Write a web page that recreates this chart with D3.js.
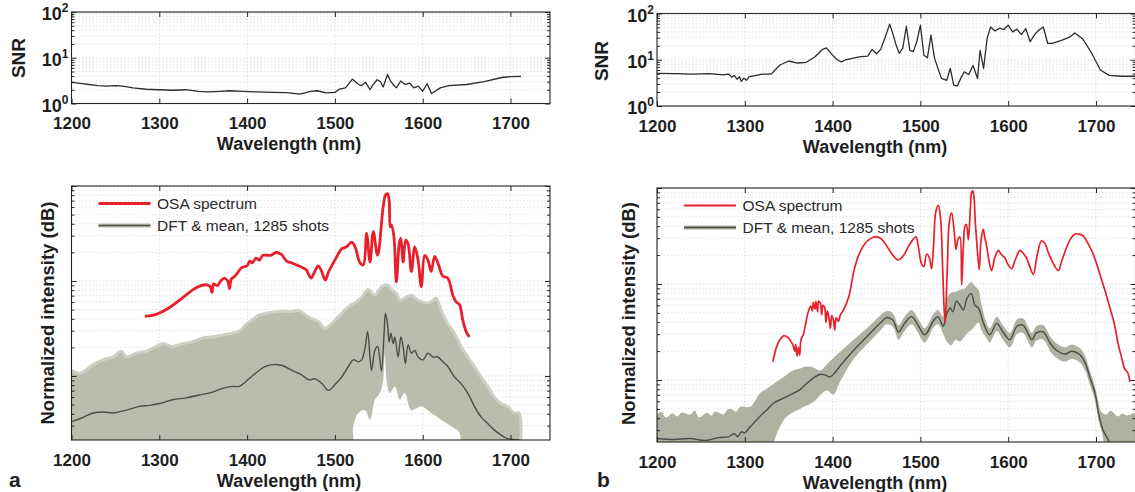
<!DOCTYPE html>
<html>
<head>
<meta charset="utf-8">
<script src="https://cdn.jsdelivr.net/npm/d3@7/dist/d3.min.js"></script>
<style>
html,body{margin:0;padding:0;background:#fff;}
svg{display:block;}
text{font-family:"Liberation Sans",Arial,Helvetica,sans-serif;}
</style>
</head>
<body>
<svg id="fig" width="1135" height="492"></svg>
<script>
// ---------------- data ----------------
const xTickValues = [1200,1300,1400,1500,1600,1700];
const xTickLabels = ["1200","1300","1400","1500","1600","1700"];
const snrTickValues = [1,10,100];
const snrTickExponents = ["0","1","2"];
const xAxisTitle = "Wavelength (nm)";
const snrTitle = "SNR";
const intTitle = "Normalized intensity (dB)";
const legendLabels = ["OSA spectrum","DFT & mean, 1285 shots"];
const panelLetters = ["a","b"];

// SNR, panel a  [wavelength nm, SNR]
const snrA = [[1200,2.9],[1210,2.75],[1220,2.6],[1230,2.45],[1240,2.4],[1250,2.45],[1258,2.4],[1270,2.2],[1285,2.05],[1300,2.0],[1315,1.95],[1330,2.0],[1345,1.85],[1355,1.8],[1370,1.85],[1380,1.9],[1395,1.85],[1410,1.8],[1430,1.75],[1445,1.72],[1460,1.6],[1466,1.7],[1472,1.85],[1480,1.9],[1490,1.7],[1500,1.75],[1505,2.05],[1512,2.2],[1520,3.4],[1526,2.7],[1530,2.45],[1535,2.9],[1540,2.0],[1543,2.5],[1548,3.3],[1552,3.0],[1555,2.3],[1560,4.3],[1563,3.2],[1567,2.5],[1570,2.2],[1575,3.1],[1580,2.6],[1585,2.8],[1590,2.2],[1595,2.4],[1600,1.85],[1605,2.7],[1610,1.65],[1615,1.9],[1620,2.2],[1630,2.45],[1650,2.6],[1670,3.0],[1690,3.7],[1700,3.85],[1712,3.9]];

// SNR, panel b
const snrB = [[1200,5.1],[1220,5.0],[1240,4.9],[1260,5.0],[1275,4.7],[1282,4.9],[1285,4.2],[1288,4.6],[1291,3.8],[1294,4.3],[1296,3.4],[1299,4.0],[1302,3.6],[1305,4.3],[1310,4.5],[1320,4.9],[1330,4.9],[1340,7.7],[1350,9.4],[1360,8.5],[1370,8.8],[1380,11.6],[1388,16.5],[1393,18],[1400,12.6],[1405,10],[1410,9.0],[1415,10],[1420,10.5],[1430,11.5],[1440,12],[1445,16.7],[1450,13.5],[1455,17],[1460,31],[1465,59],[1468,40],[1472,22],[1476,13.7],[1480,18],[1484,53],[1488,16],[1492,15],[1496,25],[1500,56],[1504,12.5],[1508,11],[1512,34],[1516,11],[1520,6.5],[1524,3.95],[1530,3.6],[1534,6.5],[1538,2.84],[1542,2.7],[1546,4],[1550,5.5],[1555,4.8],[1560,7.5],[1565,3.95],[1568,16],[1572,6.5],[1576,29],[1580,51],[1585,42],[1590,48],[1595,45],[1600,56],[1605,40],[1610,46],[1615,35],[1620,47],[1625,24.5],[1630,35],[1635,44],[1640,51],[1645,22.5],[1650,22.5],[1660,26],[1670,31],[1676,38],[1685,28],[1695,14],[1705,6],[1715,4.6],[1730,4.4],[1745,4.4]];

// Normalized intensity, panel a  [wavelength nm, dB]
const osaA = [[1283.5,-13.7],[1293.5,-13.6],[1310,-12.9],[1326,-11.8],[1342,-10.7],[1354,-10.4],[1358,-10.6],[1360,-11.2],[1362,-10.3],[1366,-10.5],[1370,-10.0],[1374,-9.7],[1378,-10.0],[1380,-10.8],[1382,-9.8],[1386,-9.5],[1394,-8.6],[1400,-8.4],[1403,-7.9],[1406,-8.1],[1410,-7.6],[1414,-7.8],[1418,-7.3],[1427,-7.3],[1433,-7.0],[1439,-7.2],[1445,-7.9],[1451,-8.1],[1461,-8.5],[1467,-8.8],[1473,-9.7],[1477,-9.0],[1481,-8.4],[1485,-9.0],[1489,-9.9],[1493,-9.0],[1500,-7.8],[1508,-6.6],[1513.5,-6.4],[1519,-5.9],[1523,-6.4],[1528.6,-8.1],[1532.4,-8.3],[1536.1,-5.0],[1540,-8.0],[1543.7,-4.8],[1548.6,-7.3],[1555,-2.2],[1557.6,-0.95],[1559.9,-0.8],[1561.8,-1.5],[1563,-4.3],[1564.4,-4.1],[1567.2,-5.3],[1570,-10.1],[1573.2,-6.1],[1575,-5.5],[1577.7,-8.0],[1580.7,-5.7],[1583.4,-6.1],[1587.1,-9.0],[1591,-6.4],[1594.7,-7.8],[1598.4,-10.6],[1602.3,-7.3],[1606,-7.8],[1609.7,-9.0],[1613.6,-7.4],[1617.3,-8.1],[1623,-9.5],[1628.6,-9.7],[1634.3,-11.5],[1638,-12.2],[1642,-12.5],[1645.6,-14.1],[1649.4,-15.3],[1653.2,-15.9]];

const meanA = [[1200,-24.8],[1209.6,-24.5],[1224.7,-23.9],[1236,-23.8],[1247.3,-23.9],[1262.5,-23.6],[1277.6,-23.2],[1288.9,-23.1],[1300.2,-22.9],[1315.3,-22.5],[1330.5,-22.3],[1345.5,-22.0],[1360.6,-21.7],[1372,-21.3],[1383.2,-21.1],[1390.8,-21.1],[1398.4,-20.6],[1409.7,-19.7],[1421,-19.0],[1430.5,-18.8],[1439.9,-18.9],[1451.2,-19.4],[1462.5,-19.9],[1470.1,-20.4],[1477.7,-20.3],[1485.2,-20.8],[1492.6,-21.5],[1500.3,-20.9],[1507.8,-20.1],[1515.4,-19.0],[1521,-18.3],[1526.7,-18.5],[1530.5,-18.3],[1534.3,-17.1],[1537.3,-15.3],[1540,-18.0],[1541.8,-19.4],[1545.6,-17.3],[1548.6,-16.9],[1551.3,-18.3],[1553.1,-19.5],[1556.2,-15.2],[1557.6,-13.4],[1559.9,-14.5],[1561.8,-16.4],[1563.8,-15.5],[1566.4,-16.6],[1568.3,-15.9],[1572,-18.0],[1575.1,-15.9],[1577.7,-16.9],[1580.3,-18.7],[1583.4,-16.7],[1587.1,-17.6],[1591,-17.3],[1594.7,-18.0],[1600.4,-18.3],[1606,-17.6],[1611.7,-18.0],[1617.3,-18.0],[1623,-18.5],[1628.6,-19.0],[1636.2,-20.1],[1643.7,-20.8],[1651.3,-21.8],[1658.9,-23.2],[1666.4,-24.3],[1674,-25.0],[1681.6,-25.7],[1689,-26.2],[1696.6,-26.6],[1704.2,-26.7],[1709.8,-26.7]];

const bandAUpper = [[1200,-19.4],[1209.6,-19.7],[1224.7,-18.8],[1236,-18.3],[1247.3,-18.0],[1256.9,-17.4],[1262.5,-18.0],[1273.8,-17.6],[1285.2,-17.4],[1296.5,-16.9],[1304,-16.6],[1315.3,-16.9],[1326.6,-16.6],[1338,-16.4],[1349.3,-16.0],[1360.6,-15.9],[1372,-15.7],[1383.2,-15.5],[1392.7,-15.2],[1398.4,-14.6],[1405.9,-14.1],[1413.5,-13.6],[1421,-13.4],[1436.1,-13.2],[1451.2,-13.2],[1458.8,-13.1],[1470.1,-13.8],[1481.4,-14.3],[1489,-15.0],[1500.3,-14.1],[1507.8,-13.4],[1515.4,-12.7],[1523,-12.3],[1530.5,-11.7],[1538,-10.9],[1545.6,-11.5],[1553,-10.6],[1558.8,-10.4],[1564.4,-10.9],[1570,-11.3],[1574,-12.0],[1579.6,-11.8],[1587,-11.5],[1594.6,-12.0],[1602.2,-12.3],[1609.7,-12.2],[1615.4,-11.8],[1621,-13.1],[1628.6,-14.5],[1636.2,-15.5],[1643.7,-16.9],[1651.3,-18.0],[1658.9,-19.0],[1666.4,-20.1],[1674,-21.1],[1681.6,-22.2],[1689,-22.9],[1696.6,-23.2],[1704.2,-23.9],[1709.8,-23.9],[1710,-30]];

const bandALower = [[1200,-30],[1515,-30],[1521,-25.3],[1526.6,-23.9],[1534.3,-23.6],[1540,-24.6],[1545.6,-22.5],[1551.3,-21.8],[1555,-20.4],[1557,-17.6],[1558.8,-20.4],[1562.6,-21.8],[1568.3,-21.1],[1574,-22.5],[1579.6,-21.8],[1587,-23.6],[1598.4,-23.2],[1609.7,-23.9],[1621,-24.6],[1632.4,-25.3],[1642,-26.0],[1645.6,-30],[1710,-30]];

// Normalized intensity, panel b
const osaB = [[1332,-18.1],[1336,-16.6],[1340,-15.8],[1344,-15.4],[1348,-15.5],[1352,-15.9],[1355,-16.4],[1357,-17.0],[1358,-16.3],[1359.5,-17.5],[1361,-16.6],[1362.5,-17.4],[1364,-15.8],[1366.6,-15.3],[1369,-14.3],[1372,-13.0],[1375,-12.3],[1377,-12.8],[1378,-11.9],[1380,-12.6],[1381,-11.8],[1383,-12.9],[1384,-11.8],[1386,-12.0],[1387.5,-13.2],[1389,-12.2],[1391,-12.5],[1392.5,-14.0],[1394,-12.8],[1396,-13.6],[1397.5,-14.6],[1399,-13.3],[1401,-13.8],[1402.5,-14.8],[1404,-13.5],[1406.5,-13.9],[1409,-13.2],[1412.5,-12.7],[1418.5,-11.3],[1424.6,-8.5],[1430.6,-6.8],[1436.7,-5.8],[1442.7,-5.3],[1448,-5.1],[1454,-5.2],[1460,-5.8],[1467,-6.8],[1474.8,-7.5],[1481,-7.0],[1487,-6.0],[1494.8,-5.1],[1497.5,-6.0],[1501.3,-7.9],[1504,-8.2],[1507,-6.9],[1510,-7.2],[1512.7,-8.4],[1515,-6.0],[1517.5,-2.5],[1520.4,-1.8],[1523,-3.2],[1525.4,-8.5],[1528,-14.1],[1530.6,-8.5],[1533,-3.5],[1535.6,-2.6],[1538.5,-4.5],[1540.5,-6.4],[1543,-5.3],[1545,-5.1],[1547,-10.1],[1549,-6.0],[1550.8,-4.0],[1552.5,-3.8],[1554.6,-5.4],[1557,-2.0],[1558.5,-0.4],[1559.6,-0.3],[1561,-0.9],[1562.5,-3.5],[1564,-5.4],[1567,-8.5],[1569,-5.5],[1571.6,-4.3],[1573,-5.0],[1575.4,-6.0],[1578,-7.5],[1581,-8.6],[1585,-7.2],[1588.8,-6.5],[1592,-6.9],[1596.3,-7.3],[1600,-8.0],[1603.9,-8.4],[1608,-7.5],[1613.4,-6.5],[1617,-6.8],[1621,-7.3],[1625,-8.3],[1628.6,-9.0],[1633,-7.0],[1638,-5.5],[1642,-5.8],[1645.6,-6.7],[1651,-7.8],[1657,-8.6],[1661,-7.6],[1666.5,-6.2],[1671,-5.3],[1676,-4.8],[1681,-4.8],[1685.5,-5.0],[1691,-5.8],[1696.9,-6.9],[1704.5,-9.0],[1710,-10.6],[1715.9,-12.5],[1721,-14.2],[1725.4,-16.3],[1729,-17.6],[1733,-18.9],[1736,-19.2],[1738.7,-20.2]];

const meanB = [[1200,-26.1],[1220,-26.2],[1238,-26.1],[1255,-26.3],[1270,-26.0],[1282,-25.9],[1288,-25.6],[1292,-25.9],[1296,-25.4],[1300,-25.5],[1306,-24.9],[1317,-23.8],[1325,-23.1],[1333,-22.4],[1344,-21.9],[1355,-21.4],[1363,-21.0],[1370,-20.4],[1378,-19.8],[1386,-19.4],[1392,-19.5],[1397,-19.7],[1402,-19.3],[1408,-18.6],[1424,-16.9],[1439,-15.5],[1454,-14.1],[1462,-13.5],[1469,-13.8],[1475,-15.0],[1482,-14.1],[1490,-13.4],[1498,-14.4],[1505,-15.3],[1515,-13.8],[1520,-13.4],[1526,-14.4],[1530,-13.1],[1534,-12.5],[1537,-12.9],[1541,-11.8],[1545,-12.2],[1549,-12.7],[1553,-11.5],[1558,-11.0],[1562,-12.2],[1566,-12.5],[1572,-14.1],[1579,-15.3],[1587,-14.1],[1594,-15.0],[1602,-15.8],[1610,-14.4],[1617,-14.3],[1627,-15.8],[1632,-15.1],[1640,-15.0],[1648,-16.2],[1655,-16.9],[1665,-17.3],[1672,-17.0],[1682,-17.4],[1688,-18.3],[1693,-19.7],[1699,-21.4],[1703,-23.5],[1708,-25.2],[1714,-26.25],[1720,-27.5]];

const bandBUpper = [[1200,-23.6],[1205,-23.3],[1210,-23.9],[1218,-23.5],[1223,-23.8],[1228,-23.4],[1238,-23.6],[1243,-23.2],[1248,-23.9],[1257,-23.4],[1262,-23.7],[1266,-23.3],[1276,-23.6],[1280,-23.1],[1284,-23.0],[1290,-23.3],[1295,-22.8],[1306,-22.8],[1317,-21.4],[1325,-20.9],[1333,-20.4],[1344,-19.7],[1355,-19.0],[1363,-18.8],[1370,-18.6],[1378,-18.7],[1386,-19.0],[1393,-18.4],[1401,-17.7],[1408,-17.1],[1424,-15.8],[1439,-14.6],[1454,-13.3],[1462,-12.8],[1469,-13.1],[1475,-14.3],[1482,-13.4],[1490,-12.7],[1498,-13.7],[1505,-14.6],[1515,-13.1],[1520,-12.7],[1526,-13.4],[1530,-11.5],[1535,-10.9],[1540,-10.8],[1545,-10.6],[1550,-10.5],[1555,-10.0],[1558,-9.8],[1562,-10.2],[1566,-10.6],[1570,-12.3],[1575,-14.0],[1579,-14.6],[1587,-13.4],[1594,-14.3],[1602,-15.1],[1610,-13.7],[1617,-13.6],[1627,-15.1],[1632,-14.4],[1640,-14.3],[1648,-15.5],[1655,-16.2],[1665,-16.6],[1672,-16.3],[1682,-16.7],[1688,-17.6],[1693,-19.0],[1699,-20.7],[1703,-22.4],[1706,-23.3],[1712,-23.6],[1716,-23.2],[1720,-23.4],[1725,-23.8],[1730,-23.5],[1735,-23.7],[1745,-23.5]];

const bandBLower = [[1200,-30],[1330,-30],[1333,-26.6],[1340,-24.9],[1348,-23.8],[1363,-23.0],[1378,-22.3],[1393,-21.1],[1401,-21.5],[1408,-20.3],[1424,-17.8],[1439,-16.3],[1454,-14.9],[1462,-14.2],[1469,-14.5],[1475,-15.8],[1482,-14.9],[1490,-14.2],[1498,-15.2],[1505,-16.1],[1515,-14.5],[1520,-14.2],[1526,-15.2],[1530,-16.0],[1535,-16.4],[1540,-15.8],[1545,-16.0],[1550,-15.5],[1555,-15.0],[1560,-14.6],[1566,-14.0],[1570,-14.9],[1575,-15.6],[1579,-16.1],[1587,-14.9],[1594,-15.8],[1602,-16.6],[1610,-15.2],[1617,-15.1],[1627,-16.6],[1632,-15.9],[1640,-15.8],[1648,-17.0],[1655,-17.7],[1665,-18.1],[1672,-17.8],[1682,-18.2],[1688,-19.1],[1693,-20.5],[1699,-22.2],[1703,-24.3],[1708,-26.0],[1712,-30],[1745,-30]];

// ---------------- layout & style ----------------
const X_DOMAIN = [1200,1745];
const COL = {red:"#e8202b", mean:"#4b4e47", bandA:"#b9bdac", bandAEdge:"#cdd0c3", bandB:"#adb2a1", frame:"#262626", grid:"#d6d6d6", snr:"#2c2c2c", text:"#1e1e1e"};
const layout = {
  a:{snr:{x0:71.5,x1:550,y0:12,y1:103.5}, int:{x0:71.5,x1:550,y0:186,y1:440}, dbMin:-26.74,
     snrLabel:[25,58], intLabel:[54,313], xTitleX:289, letterX:9, redW:2.8,
     osa:osaA, mean:meanA, up:bandAUpper, lo:bandALower, snrData:snrA, band:COL.bandA, edge:true, letter:panelLetters[0]},
  b:{snr:{x0:657,x1:1135.5,y0:13.5,y1:106}, int:{x0:657,x1:1135.5,y0:188,y1:442}, dbMin:-26.46,
     snrLabel:[608,61], intLabel:[635,313.5], xTitleX:875, letterX:597, redW:1.7,
     osa:osaB, mean:meanB, up:bandBUpper, lo:bandBLower, snrData:snrB, band:COL.bandB, edge:false, letter:panelLetters[1]}
};

const svg = d3.select("#fig");
let clipId = 0;

function styleAxis(sel){
  sel.select(".domain").remove();
  sel.selectAll("line").attr("stroke",COL.frame).attr("stroke-width",1);
  sel.selectAll("text").attr("font-size",17).attr("font-weight","bold").attr("fill",COL.text)
     .attr("font-family",'"Liberation Sans",Arial,sans-serif');
}

function grid(g, gm, x, y, yMajor, yMinor){
  const gr = g.append("g").attr("stroke",COL.grid).attr("stroke-width",0.7).attr("stroke-dasharray","1.5,2");
  gr.selectAll("line.gv").data(xTickValues).join("line").attr("class","gv")
    .attr("x1",d=>x(d)).attr("x2",d=>x(d)).attr("y1",gm.y0).attr("y2",gm.y1);
  gr.selectAll("line.gh").data(yMajor.concat(yMinor)).join("line").attr("class","gh")
    .attr("x1",gm.x0).attr("x2",gm.x1).attr("y1",d=>y(d)).attr("y2",d=>y(d));
}

function axes(g, gm, x, y, yMajor, yMinor){
  g.append("g").attr("transform",`translate(0,${gm.y1})`)
    .call(d3.axisBottom(x).tickValues(xTickValues).tickFormat((d,i)=>xTickLabels[i]).tickSizeInner(-5).tickSizeOuter(0).tickPadding(13.5))
    .call(styleAxis);
  g.append("g").attr("transform",`translate(0,${gm.y0})`)
    .call(d3.axisTop(x).tickValues(xTickValues).tickFormat("").tickSizeInner(-5).tickSizeOuter(0))
    .call(styleAxis);
  [[d3.axisLeft,gm.x0],[d3.axisRight,gm.x1]].forEach(([ax,pos])=>{
    g.append("g").attr("transform",`translate(${pos},0)`)
      .call(ax(y).tickValues(yMajor).tickFormat("").tickSizeInner(-5).tickSizeOuter(0)).call(styleAxis);
    g.append("g").attr("transform",`translate(${pos},0)`)
      .call(ax(y).tickValues(yMinor).tickFormat("").tickSizeInner(-3).tickSizeOuter(0)).call(styleAxis);
  });
  g.append("rect").attr("x",gm.x0).attr("y",gm.y0).attr("width",gm.x1-gm.x0).attr("height",gm.y1-gm.y0)
    .attr("fill","none").attr("stroke",COL.frame).attr("stroke-width",1.1);
}

function clip(g, gm){
  const id = "clip"+(clipId++);
  svg.append("clipPath").attr("id",id).append("rect")
    .attr("x",gm.x0).attr("y",gm.y0).attr("width",gm.x1-gm.x0).attr("height",gm.y1-gm.y0);
  return g.append("g").attr("clip-path",`url(#${id})`);
}

Object.values(layout).forEach(P=>{
  // ---------- SNR panel ----------
  const gs = P.snr;
  const gS = svg.append("g");
  const xs = d3.scaleLinear().domain(X_DOMAIN).range([gs.x0,gs.x1]);
  const ys = d3.scaleLog().domain([1,100]).range([gs.y1,gs.y0]);
  const snrMinor = ys.ticks().filter(t=>!snrTickValues.includes(t));
  grid(gS, gs, xs, ys, snrTickValues, snrMinor);
  clip(gS, gs).append("path").datum(P.snrData)
    .attr("d", d3.line().x(d=>xs(d[0])).y(d=>ys(d[1])))
    .attr("fill","none").attr("stroke",COL.snr).attr("stroke-width",1.3).attr("stroke-linejoin","round");
  axes(gS, gs, xs, ys, snrTickValues, snrMinor);
  snrTickValues.forEach((v,i)=>{
    const t = gS.append("text").attr("x",gs.x0-3).attr("y",ys(v)+8).attr("text-anchor","end")
      .attr("font-size",18).attr("font-weight","bold").attr("fill",COL.text);
    t.append("tspan").text("10");
    t.append("tspan").attr("dy",-8).attr("font-size",12).text(snrTickExponents[i]);
  });
  gS.append("text").attr("transform",`translate(${P.snrLabel[0]},${P.snrLabel[1]}) rotate(-90)`)
    .attr("text-anchor","middle").attr("font-size",19).attr("font-weight","bold").attr("fill",COL.text).text(snrTitle);
  gS.append("text").attr("x",P.xTitleX).attr("y",gs.y1+46.5).attr("text-anchor","middle")
    .attr("font-size",18).attr("font-weight","bold").attr("fill",COL.text).text(xAxisTitle);

  // ---------- intensity panel ----------
  const gi = P.int;
  const gI = svg.append("g");
  const xi = d3.scaleLinear().domain(X_DOMAIN).range([gi.x0,gi.x1]);
  const yi = d3.scaleLinear().domain([P.dbMin,0]).range([gi.y1,gi.y0]);
  const logT = d3.scaleLog().domain([Math.pow(10,P.dbMin/10),1]).ticks();
  const dbAll = logT.map(t=>10*Math.log10(t)).filter(d=>d>=P.dbMin-1e-6 && d<=1e-6);
  const dbMajor = dbAll.filter(d=>Math.abs(d/10-Math.round(d/10))<1e-6);
  const dbMinor = dbAll.filter(d=>!dbMajor.includes(d));
  grid(gI, gi, xi, yi, dbMajor, dbMinor);
  const cg = clip(gI, gi);
  const smooth = d3.line().curve(d3.curveCatmullRom.alpha(0.5)).x(d=>xi(d[0])).y(d=>yi(d[1]));
  cg.append("path").datum(P.up.concat(P.lo.slice().reverse()))
    .attr("d", d=>smooth(d)+"Z").attr("fill",P.band).attr("stroke","none");
  if(P.edge){
    cg.append("path").datum(P.up).attr("d",smooth).attr("fill","none")
      .attr("stroke",COL.bandAEdge).attr("stroke-width",3).attr("stroke-linejoin","round");
  }
  cg.append("path").datum(P.mean).attr("d",smooth).attr("fill","none")
    .attr("stroke",COL.mean).attr("stroke-width",1.4).attr("stroke-linejoin","round");
  cg.append("path").datum(P.osa).attr("d",smooth).attr("fill","none")
    .attr("stroke",COL.red).attr("stroke-width",P.redW).attr("stroke-linejoin","round");
  axes(gI, gi, xi, yi, dbMajor, dbMinor);

  // legend
  const lg = gI.append("g");
  const lx0 = gi.x0+27, lx1 = gi.x0+79, tx = gi.x0+85.5;
  const ly = [gi.y0+17.5, gi.y0+39.5];
  lg.append("line").attr("x1",lx0).attr("x2",lx1).attr("y1",ly[0]).attr("y2",ly[0])
    .attr("stroke",COL.red).attr("stroke-width",P.redW+0.3);
  lg.append("line").attr("x1",lx0).attr("x2",lx1).attr("y1",ly[1]).attr("y2",ly[1])
    .attr("stroke",P.band).attr("stroke-width",4);
  lg.append("line").attr("x1",lx0).attr("x2",lx1).attr("y1",ly[1]).attr("y2",ly[1])
    .attr("stroke",COL.mean).attr("stroke-width",1.6);
  legendLabels.forEach((s,i)=>{
    lg.append("text").attr("x",tx).attr("y",ly[i]+5.5).attr("font-size",15.5).attr("fill","#2a2a2a").text(s);
  });

  gI.append("text").attr("transform",`translate(${P.intLabel[0]},${P.intLabel[1]}) rotate(-90)`)
    .attr("text-anchor","middle").attr("font-size",18.5).attr("font-weight","bold").attr("fill",COL.text).text(intTitle);
  gI.append("text").attr("x",P.xTitleX).attr("y",gi.y1+46.5).attr("text-anchor","middle")
    .attr("font-size",18).attr("font-weight","bold").attr("fill",COL.text).text(xAxisTitle);
  gI.append("text").attr("x",P.letterX).attr("y",487).attr("font-size",21).attr("font-weight","bold")
    .attr("fill",COL.text).text(P.letter);
});
</script>
</body>
</html>
